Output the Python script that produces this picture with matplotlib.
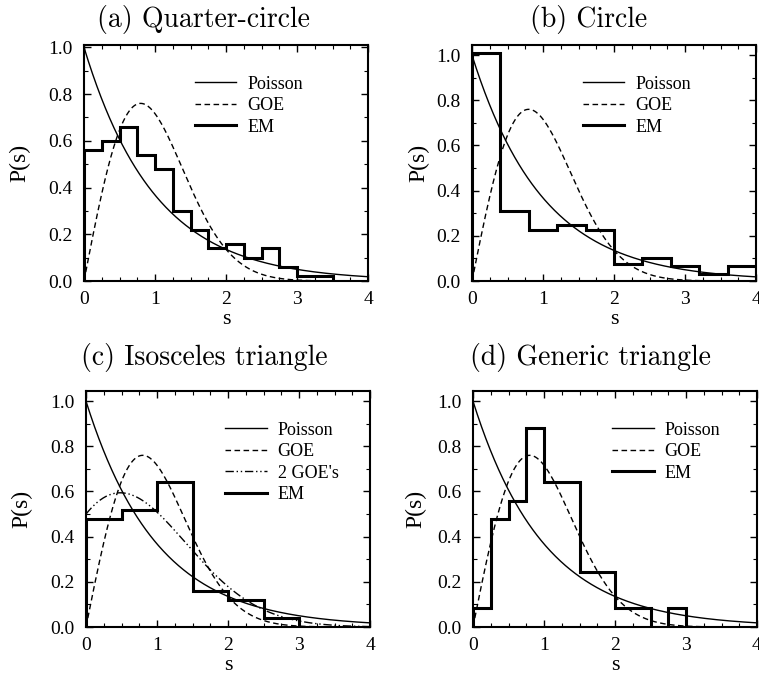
import math
import numpy as np
import matplotlib
matplotlib.use('Agg')
from matplotlib import pyplot as plt
from matplotlib.ticker import MultipleLocator

# histogram data
edges_a = [0, 0.25, 0.5, 0.75, 1.0, 1.25, 1.5, 1.75, 2.0, 2.25, 2.5, 2.75, 3.0, 3.25, 3.5]
em_a = [0.56, 0.60, 0.66, 0.54, 0.48, 0.30, 0.22, 0.14, 0.16, 0.10, 0.14, 0.06, 0.02, 0.02]

edges_b = [0, 0.4, 0.8, 1.2, 1.6, 2.0, 2.4, 2.8, 3.2, 3.6, 4.0]
em_b = [1.01, 0.31, 0.225, 0.25, 0.225, 0.075, 0.10, 0.065, 0.03, 0.065]

edges_c = [0, 0.5, 1.0, 1.5, 2.0, 2.5, 3.0]
em_c = [0.48, 0.52, 0.64, 0.16, 0.12, 0.04]

edges_d = [0, 0.25, 0.5, 0.75, 1.0, 1.5, 2.0, 2.5, 2.75, 3.0]
em_d = [0.085, 0.48, 0.56, 0.88, 0.64, 0.245, 0.085, 0.0, 0.085]

titles = ['(a) Quarter-circle', '(b) Circle', '(c) Isosceles triangle', '(d) Generic triangle']
x_ticks = [0, 1, 2, 3, 4]
x_ticklabels = ['0', '1', '2', '3', '4']
y_ticks = [0, 0.2, 0.4, 0.6, 0.8, 1.0]
y_ticklabels = ['0.0', '0.2', '0.4', '0.6', '0.8', '1.0']

s = np.linspace(0, 4, 400)


def poisson(x):
    return np.exp(-x)


def goe(x):
    return np.pi / 2 * x * np.exp(-np.pi * x ** 2 / 4)


def two_goe(x):
    # superposition of two independent GOE spectra, equal fractions
    erfc = np.vectorize(math.erfc)
    h = x / 2
    e1 = erfc(np.sqrt(np.pi) * h / 2)
    d1 = -np.exp(-np.pi * h ** 2 / 4)
    dd1 = np.pi * h / 2 * np.exp(-np.pi * h ** 2 / 4)
    return 0.5 * (d1 ** 2 + e1 * dd1)


def setup_axes(ax, ytop, ypad):
    ax.set_xlim(0, 4)
    ax.set_ylim(0, ytop)
    ax.xaxis.set_minor_locator(MultipleLocator(0.25))
    ax.yaxis.set_minor_locator(MultipleLocator(0.1))
    ax.set_xticks(x_ticks)
    ax.set_xticklabels(x_ticklabels)
    ax.set_yticks(y_ticks)
    ax.set_yticklabels(y_ticklabels)
    ax.tick_params(which='both', direction='in', top=True, right=True, labelsize=14)
    ax.tick_params(axis='x', pad=7)
    ax.tick_params(axis='y', pad=8)
    ax.tick_params(which='major', length=5, width=1)
    ax.tick_params(which='minor', length=3, width=0.8)
    for sp in ax.spines.values():
        sp.set_linewidth(1.5)
    ax.set_xlabel('s', fontsize=16, labelpad=2)
    ax.set_ylabel('P(s)', fontsize=17, labelpad=ypad)


def main():
    plt.rcParams['font.family'] = ['Liberation Serif', 'DejaVu Serif']
    fig = plt.figure(figsize=(7.59, 6.79), dpi=100)
    W, H = 759, 679
    boxes = [(84, 45, 284, 236), (472, 45, 284, 236), (86, 391, 284, 236), (473, 391, 284, 236)]
    ytops = [1.01, 1.045, 1.045, 1.045]
    ypads = [13, 5, 13, 8]
    title_pos = [(203, 20), (589, 20), (204, 357), (590, 357)]
    data = [(edges_a, em_a), (edges_b, em_b), (edges_c, em_c), (edges_d, em_d)]
    legend_pos = [(0.39, 0.87), (0.39, 0.87), (0.49, 0.87), (0.49, 0.87)]

    for i, (x0, y0, w, h) in enumerate(boxes):
        ax = fig.add_axes([x0 / W, 1 - (y0 + h) / H, w / W, h / H])
        setup_axes(ax, ytops[i], ypads[i])
        ax.plot(s, poisson(s), color='black', lw=1.0, label='Poisson')
        ax.plot(s, goe(s), color='black', lw=1.0, ls=(0, (4, 2.5)), label='GOE')
        if i == 2:
            ax.plot(s, two_goe(s), color='black', lw=1.0, ls=(0, (6, 2, 1, 2, 1, 2)), label="2 GOE's")
        edges, vals = data[i]
        ax.stairs(vals, edges, baseline=0, color='black', lw=2.2, label='EM')
        ax.legend(loc='upper left', bbox_to_anchor=legend_pos[i], frameon=False, fontsize=13,
                  handlelength=2.3, handletextpad=0.6, labelspacing=0.25, borderpad=0,
                  borderaxespad=0)
        tx, ty = title_pos[i]
        fig.text(tx / W, 1 - ty / H, titles[i], family='cmr10', fontsize=20,
                 ha='center', va='center')

    fig.savefig('out.png', dpi=100)


if __name__ == '__main__':
    main()
